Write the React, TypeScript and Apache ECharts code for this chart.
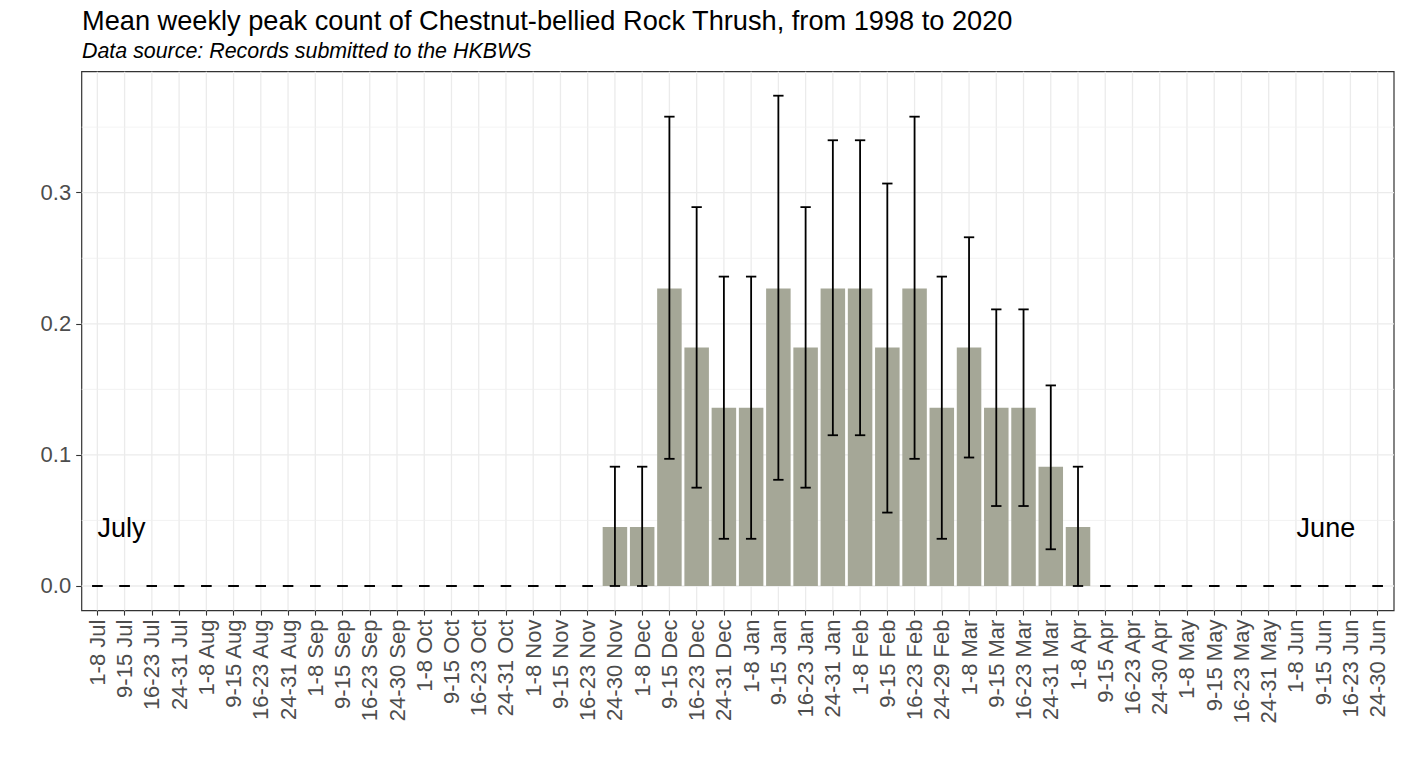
import React, { useEffect, useRef } from "react";
import * as echarts from "echarts";

// ---------- data ----------
const categories: string[] = [
  "1-8 Jul", "9-15 Jul", "16-23 Jul", "24-31 Jul",
  "1-8 Aug", "9-15 Aug", "16-23 Aug", "24-31 Aug",
  "1-8 Sep", "9-15 Sep", "16-23 Sep", "24-30 Sep",
  "1-8 Oct", "9-15 Oct", "16-23 Oct", "24-31 Oct",
  "1-8 Nov", "9-15 Nov", "16-23 Nov", "24-30 Nov",
  "1-8 Dec", "9-15 Dec", "16-23 Dec", "24-31 Dec",
  "1-8 Jan", "9-15 Jan", "16-23 Jan", "24-31 Jan",
  "1-8 Feb", "9-15 Feb", "16-23 Feb", "24-29 Feb",
  "1-8 Mar", "9-15 Mar", "16-23 Mar", "24-31 Mar",
  "1-8 Apr", "9-15 Apr", "16-23 Apr", "24-30 Apr",
  "1-8 May", "9-15 May", "16-23 May", "24-31 May",
  "1-8 Jun", "9-15 Jun", "16-23 Jun", "24-30 Jun",
];

const meanCount: number[] = [
  0, 0, 0, 0,
  0, 0, 0, 0,
  0, 0, 0, 0,
  0, 0, 0, 0,
  0, 0, 0, 0.045,
  0.045, 0.227, 0.182, 0.136,
  0.136, 0.227, 0.182, 0.227,
  0.227, 0.182, 0.227, 0.136,
  0.182, 0.136, 0.136, 0.091,
  0.045, 0, 0, 0,
  0, 0, 0, 0,
  0, 0, 0, 0,
];

const lowerCount: number[] = [
  0, 0, 0, 0,
  0, 0, 0, 0,
  0, 0, 0, 0,
  0, 0, 0, 0,
  0, 0, 0, 0,
  0, 0.097, 0.075, 0.036,
  0.036, 0.081, 0.075, 0.115,
  0.115, 0.056, 0.097, 0.036,
  0.098, 0.061, 0.061, 0.028,
  0, 0, 0, 0,
  0, 0, 0, 0,
  0, 0, 0, 0,
];

const upperCount: number[] = [
  0, 0, 0, 0,
  0, 0, 0, 0,
  0, 0, 0, 0,
  0, 0, 0, 0,
  0, 0, 0, 0.091,
  0.091, 0.358, 0.289, 0.236,
  0.236, 0.374, 0.289, 0.340,
  0.340, 0.307, 0.358, 0.236,
  0.266, 0.211, 0.211, 0.153,
  0.091, 0, 0, 0,
  0, 0, 0, 0,
  0, 0, 0, 0,
];

const yTickValues: number[] = [0, 0.1, 0.2, 0.3];
const yMinorValues: number[] = [0.05, 0.15, 0.25, 0.35];

const monthNotes: { text: string; x: number; y: number }[] = [
  { text: "July", x: 0.89, y: 0.044 },
  { text: "June", x: 45.1, y: 0.044 },
];

const TITLE = "Mean weekly peak count of Chestnut-bellied Rock Thrush, from 1998 to 2020";
const SUBTITLE = "Data source: Records submitted to the HKBWS";

// ---------- layout ----------
const FONT = "'Liberation Sans', Arial, Helvetica, sans-serif";
const W = 1404;
const H = 766;
const P_LEFT = 81.7;
const P_TOP = 71.7;
const P_RIGHT = 1394;
const P_BOTTOM = 610.6;
const X_MIN = -0.575;
const X_MAX = 47.6;
const Y_MIN = -0.01877;
const Y_MAX = 0.3923;
const BAR_W = 0.9;
const CAP_W = 0.38;

const pxPerX = (P_RIGHT - P_LEFT) / (X_MAX - X_MIN);
const pxPerY = (P_BOTTOM - P_TOP) / (Y_MAX - Y_MIN);
const firstCenter = P_LEFT + (0 - X_MIN) * pxPerX;
const lastCenter = P_LEFT + (categories.length - 1 - X_MIN) * pxPerX;
const yPix = (v: number) => P_TOP + (Y_MAX - v) * pxPerY;

export default function App() {
  const ref = useRef<HTMLDivElement>(null);

  useEffect(() => {
    document.body.style.margin = "0";
    if (!ref.current) return;
    const chart = echarts.init(ref.current, null, { renderer: "svg" });

    const idx = categories.map((_, i) => i);

    const option: any = {
      animation: false,
      backgroundColor: "#ffffff",
      title: [
        {
          text: TITLE,
          left: 82,
          top: 6.5,
          padding: 0,
          textStyle: { fontFamily: FONT, fontSize: 27.2, fontWeight: "normal", color: "#000000" },
        },
        {
          text: SUBTITLE,
          left: 82,
          top: 40.5,
          padding: 0,
          textStyle: {
            fontFamily: FONT,
            fontSize: 21.4,
            fontWeight: "normal",
            fontStyle: "italic",
            color: "#000000",
          },
        },
      ],
      grid: [
        {
          left: P_LEFT,
          top: P_TOP,
          width: P_RIGHT - P_LEFT,
          height: P_BOTTOM - P_TOP,
          show: true,
          borderColor: "#333333",
          borderWidth: 1.2,
          backgroundColor: "transparent",
          containLabel: false,
        },
        {
          left: firstCenter,
          top: P_TOP,
          width: lastCenter - firstCenter,
          height: P_BOTTOM - P_TOP,
          containLabel: false,
        },
        {
          left: P_LEFT,
          top: yPix(0.3),
          width: P_RIGHT - P_LEFT,
          height: yPix(0) - yPix(0.3),
          containLabel: false,
        },
      ],
      xAxis: [
        { gridIndex: 0, type: "value", min: X_MIN, max: X_MAX, show: false },
        {
          gridIndex: 1,
          type: "category",
          data: categories,
          boundaryGap: false,
          axisLine: { show: false },
          axisTick: { show: true, length: 5, interval: 0, lineStyle: { color: "#333333", width: 1.1 } },
          axisLabel: {
            interval: 0,
            rotate: 90,
            margin: 9,
            fontFamily: FONT,
            fontSize: 22,
            color: "#4D4D4D",
          },
          splitLine: { show: false },
        },
        { gridIndex: 2, type: "value", min: 0, max: 1, show: false },
      ],
      yAxis: [
        { gridIndex: 0, type: "value", min: Y_MIN, max: Y_MAX, show: false },
        { gridIndex: 1, type: "value", min: 0, max: 1, show: false },
        {
          gridIndex: 2,
          type: "value",
          min: 0,
          max: 0.3,
          interval: 0.1,
          axisLine: { show: false },
          axisTick: { show: true, length: 5.5, lineStyle: { color: "#333333", width: 1.1 } },
          axisLabel: {
            margin: 10.5,
            fontFamily: FONT,
            fontSize: 22,
            color: "#4D4D4D",
            formatter: (v: number) => (yTickValues.indexOf(Math.round(v * 10) / 10) >= 0 ? v.toFixed(1) : ""),
          },
          splitLine: { show: false },
        },
      ],
      series: [
        // vertical major gridlines
        {
          type: "custom",
          xAxisIndex: 0,
          yAxisIndex: 0,
          silent: true,
          z: 1,
          data: idx.map((i) => [i, 0]),
          renderItem: (params: any, api: any) => {
            const cs = params.coordSys;
            const x = api.coord([api.value(0), 0])[0];
            return {
              type: "line",
              shape: { x1: x, y1: cs.y, x2: x, y2: cs.y + cs.height },
              style: { stroke: "#EBEBEB", lineWidth: 1.3 },
            };
          },
        },
        // horizontal major gridlines
        {
          type: "custom",
          xAxisIndex: 0,
          yAxisIndex: 0,
          silent: true,
          z: 1,
          data: yTickValues.map((v) => [0, v]),
          renderItem: (params: any, api: any) => {
            const cs = params.coordSys;
            const y = api.coord([0, api.value(1)])[1];
            return {
              type: "line",
              shape: { x1: cs.x, y1: y, x2: cs.x + cs.width, y2: y },
              style: { stroke: "#EBEBEB", lineWidth: 1.3 },
            };
          },
        },
        // horizontal minor gridlines
        {
          type: "custom",
          xAxisIndex: 0,
          yAxisIndex: 0,
          silent: true,
          z: 1,
          data: yMinorValues.map((v) => [0, v]),
          renderItem: (params: any, api: any) => {
            const cs = params.coordSys;
            const y = api.coord([0, api.value(1)])[1];
            return {
              type: "line",
              shape: { x1: cs.x, y1: y, x2: cs.x + cs.width, y2: y },
              style: { stroke: "#F0F0F0", lineWidth: 0.8 },
            };
          },
        },
        // bars
        {
          type: "custom",
          xAxisIndex: 0,
          yAxisIndex: 0,
          silent: true,
          z: 2,
          data: idx.map((i) => [i, meanCount[i]]),
          renderItem: (params: any, api: any) => {
            const i = api.value(0);
            const v = api.value(1);
            if (!(v > 0)) return { type: "group", children: [] };
            const pTop = api.coord([i - BAR_W / 2, v]);
            const pBase = api.coord([i - BAR_W / 2, 0]);
            const w = api.size([BAR_W, 0])[0];
            return {
              type: "rect",
              shape: { x: pTop[0], y: pTop[1], width: w, height: pBase[1] - pTop[1] },
              style: { fill: "#A5A797" },
            };
          },
        },
        // error bars
        {
          type: "custom",
          xAxisIndex: 0,
          yAxisIndex: 0,
          silent: true,
          z: 3,
          data: idx.map((i) => [i, lowerCount[i], upperCount[i]]),
          renderItem: (params: any, api: any) => {
            const i = api.value(0);
            const lo = api.value(1);
            const hi = api.value(2);
            const pLo = api.coord([i, lo]);
            const pHi = api.coord([i, hi]);
            const half = api.size([CAP_W, 0])[0] / 2;
            const st = { stroke: "#000000", lineWidth: 1.8 };
            const children: any[] = [];
            if (hi > lo) {
              children.push({
                type: "line",
                shape: { x1: pLo[0], y1: pLo[1], x2: pHi[0], y2: pHi[1] },
                style: st,
              });
            }
            children.push({
              type: "line",
              shape: { x1: pLo[0] - half, y1: pLo[1], x2: pLo[0] + half, y2: pLo[1] },
              style: st,
            });
            children.push({
              type: "line",
              shape: { x1: pHi[0] - half, y1: pHi[1], x2: pHi[0] + half, y2: pHi[1] },
              style: st,
            });
            return { type: "group", children };
          },
        },
        // month notes
        {
          type: "custom",
          xAxisIndex: 0,
          yAxisIndex: 0,
          silent: true,
          z: 4,
          data: monthNotes.map((m) => [m.x, m.y, m.text]),
          renderItem: (params: any, api: any) => {
            const p = api.coord([api.value(0), api.value(1)]);
            return {
              type: "text",
              x: p[0],
              y: p[1],
              style: {
                text: monthNotes[params.dataIndex].text,
                fill: "#000000",
                fontFamily: FONT,
                fontSize: 27,
                align: "center",
                verticalAlign: "middle",
              },
            };
          },
        },
      ],
    };

    chart.setOption(option);
    return () => {
      chart.dispose();
    };
  }, []);

  return <div ref={ref} style={{ width: W, height: H }} />;
}
